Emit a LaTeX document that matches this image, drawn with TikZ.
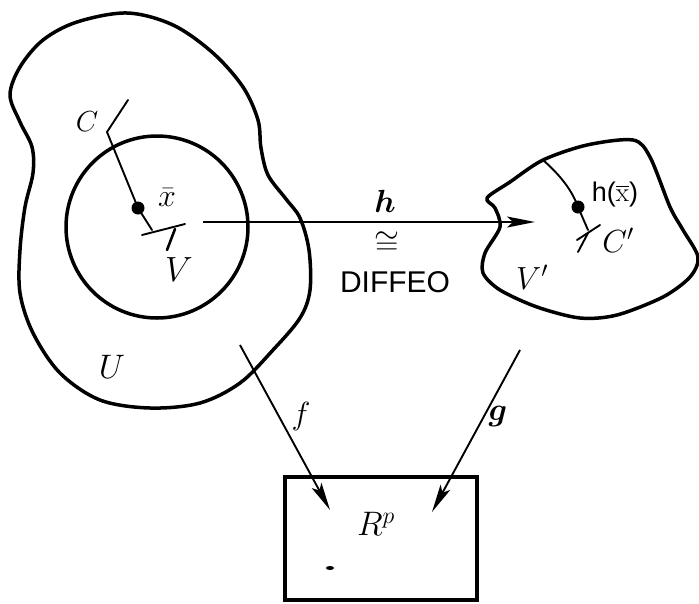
\RequirePackage{fix-cm}
\documentclass[tikz,border=0pt]{standalone}
\usepackage{amsmath,amssymb,bm}
\usepackage{fontspec}
\newfontfamily\sansf{Liberation Sans}
\usetikzlibrary{arrows.meta}
\begin{document}
\begin{tikzpicture}[x=1pt,y=-1pt,
  outline/.style={line width=3.5pt,line join=round},
  thin/.style={line width=1.9pt,line cap=round},
  maparrow/.style={line width=1.9pt,-{Stealth[length=28pt,width=11pt,inset=6pt]}},
  lbl/.style={inner sep=0pt,font=\fontsize{32}{36}\selectfont},
  slbl/.style={inner sep=0pt,font=\sansf\fontsize{30}{34}\selectfont}]
\useasboundingbox (0,0) rectangle (699,603);
% U
\draw[outline] plot[smooth cycle,tension=0.55] coordinates {
 (10,95) (20,67) (43,40) (77,22) (127,13) (173,25) (213,53) (243,87) (258,120)
 (261,148) (268,175) (286,199) (300,218) (309,250) (310,290) (300,318) (273,350)
 (240,383) (200,403) (150,408) (100,400) (60,373) (33,333) (20,293) (20,250)
 (25,207) (33,173) (32,147) (20,122)};
% V circle
\draw[outline] (157,227) circle[radius=91];
% V'
\draw[outline] plot[smooth cycle,tension=0.5] coordinates {
 (487,198) (510,182) (543,160) (587,145) (633,140) (650,157) (670,207) (683,230)
 (698,257) (690,277) (663,297) (617,315) (580,318) (537,307) (500,290) (483,273)
 (485,253) (500,227) (495,208)};
% curve C
\coordinate (c1) at (128,100);
\coordinate (c2) at (107,132);
\node[circle,fill,inner sep=0pt,minimum size=13pt] (xbar) at (138,208) {};
\draw[thin] (c1) -- (c2) -- (xbar.center) -- (152,230);
\draw[thin] (142,235) -- (185,224);
\draw[thin,line width=2.6pt] (175,229) -- (167,250);
% curve C'
\coordinate (cp1) at (543,160);
\node[circle,fill,inner sep=0pt,minimum size=13pt] (hx) at (578,207) {};
\draw[thin] (cp1) .. controls (560,175) and (572,190) .. (hx.center) -- (588,230);
\draw[thin] (577,240) -- (600,225);
\draw[thin] (578,252) -- (588,233);
% rectangle
\node[draw,line width=3.5pt,minimum width=192pt,minimum height=123pt,inner sep=0pt] (Rp) at (381,538.5) {};
\fill (330,568) ellipse[x radius=4pt,y radius=2pt];
% map arrows
\coordinate (hs) at (203,222);
\coordinate (ht) at (535,222);
\draw[maparrow] (hs) -- (ht);
\coordinate (fs) at (240,345);
\coordinate (ft) at (330,510);
\draw[maparrow] (fs) -- (ft);
\coordinate (gs) at (520,350);
\coordinate (gt) at (432,512);
\draw[maparrow] (gs) -- (gt);
% labels
\node[lbl,font=\fontsize{29}{32}\selectfont] (lC) at (87,122) {$C$};
\node[lbl] (lx) at (167,198) {$\bar{x}$};
\node[lbl,font=\fontsize{35}{38}\selectfont] (lV) at (179,270) {$V$};
\node[lbl,font=\fontsize{34}{38}\selectfont] (lU) at (112,367) {$U$};
\node[lbl] (lh) at (385,201) {$\bm{h}$};
\node[lbl] (lcong) at (387,243) {$\cong$};
\node[slbl] (ldiff) at (395,282) {DIFFEO};
\node[slbl,font=\sansf\fontsize{27}{30}\selectfont] (lhx) at (615,195) {h($\overline{\mathrm{x}}$)};
\node[lbl] (lCp) at (618,240) {$C'$};
\node[lbl] (lVp) at (532,277) {$V'$};
\node[lbl] (lf) at (301,416) {$f$};
\node[lbl] (lg) at (498,416) {$\bm{g}$};
\node[lbl,font=\fontsize{34}{38}\selectfont] (lR) at (376,524) {$R^p$};
\end{tikzpicture}
\end{document}
